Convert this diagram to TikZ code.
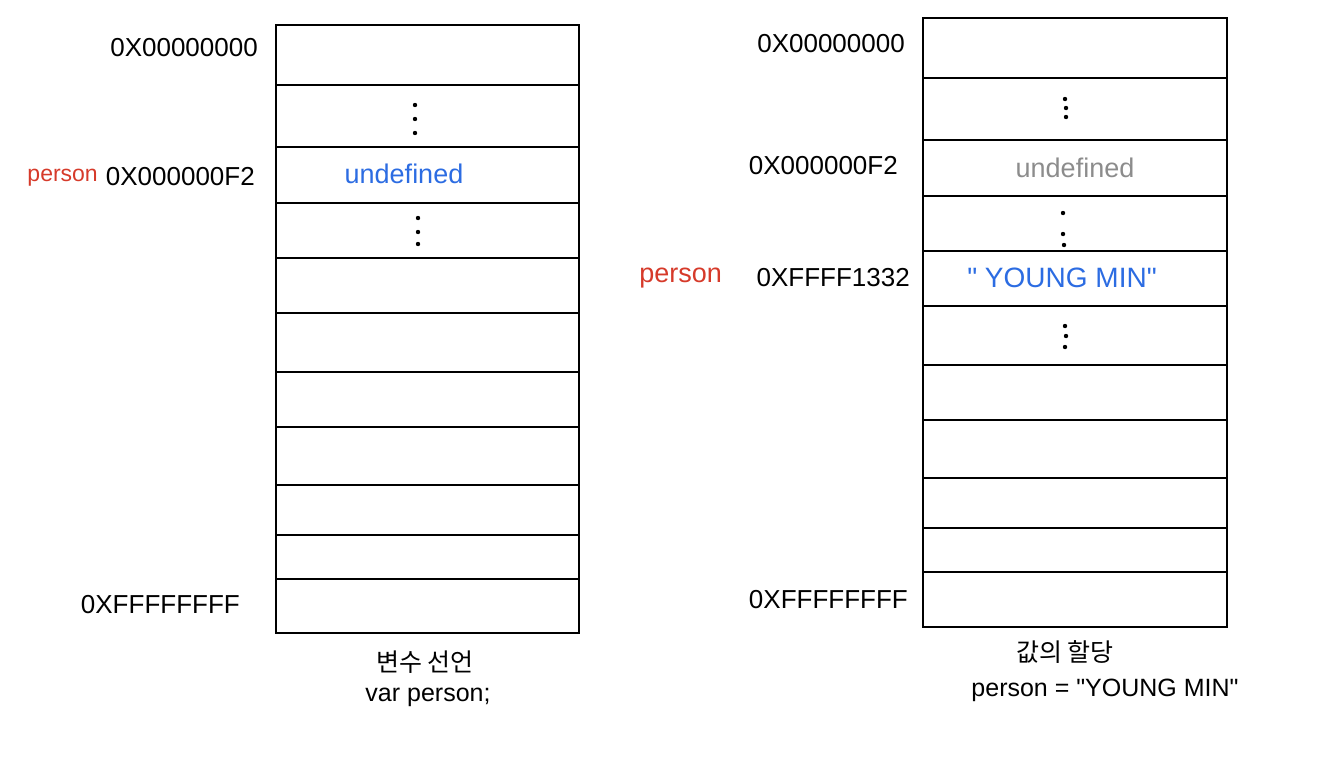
\documentclass[tikz,border=0pt]{standalone}
\usepackage{fontspec}
\setmainfont{Liberation Sans}
\newfontfamily\krfont{Noto Sans CJK KR}
\usepackage{tikz}
\usetikzlibrary{calc}

\definecolor{penblue}{RGB}{44,108,226}
\definecolor{penred}{RGB}{214,58,42}
\definecolor{pengray}{RGB}{140,140,140}

\tikzset{
  cellline/.style={line width=1.6pt},
  addr/.style={anchor=east, inner sep=0pt, font=\fontsize{26}{28}\selectfont},
  varname/.style={anchor=east, inner sep=0pt, text=penred, font=\fontsize{23}{26}\selectfont},
  cellval/.style={inner sep=0pt, font=\fontsize{27}{30}\selectfont},
  caption/.style={inner sep=0pt, font=\fontsize{25}{28}\selectfont}
}

\begin{document}
\begin{tikzpicture}[x=1pt, y=-1pt]
      \useasboundingbox (0, 0) rectangle (1340, 766);
      % left memory: after declaration
      \draw[cellline] (276, 25) rectangle (579, 633);
      \foreach \y in {85, 147, 203, 258, 313, 372, 427, 485, 535, 579}
        \draw[cellline] (276, \y) -- (579, \y);
      \node[addr] (l1) at (258, 48) {0X00000000};
      \node[addr] (l2) at (255, 177) {0X000000F2};
      \node[varname] (lv) at (98, 178) {person};
      \node[addr] (l3) at (240, 605) {0XFFFFFFFF};
      \foreach \x/\y in {415/105, 415/119, 415/133, 418/218, 418/232, 418/244}
        \fill (\x, \y) circle (2.2);
      \node[cellval, text=penblue] (lval) at (404, 174) {undefined};
      \node[caption] (lcap) at (425, 662) {\krfont 변수 선언};
      \node[caption] (lcode) at (428, 697) {var person;};
      % right memory: after assignment
      \draw[cellline] (923, 18) rectangle (1227, 627);
      \foreach \y in {78, 140, 196, 251, 306, 365, 420, 478, 528, 572}
        \draw[cellline] (923, \y) -- (1227, \y);
      \node[addr] (r1) at (905, 44) {0X00000000};
      \node[addr] (r2) at (898, 166) {0X000000F2};
      \node[addr] (r3) at (910, 278) {0XFFFF1332};
      \node[varname, font=\fontsize{27}{30}\selectfont] (rv) at (722, 278) {person};
      \node[addr] (r4) at (908, 600) {0XFFFFFFFF};
      \foreach \x/\y in {1065/99, 1066/108, 1066/117, 1063/213, 1063/234, 1064/245,
                         1065/326, 1066/336, 1065/347}
        \fill (\x, \y) circle (2.2);
      \node[cellval, text=pengray] (rold) at (1075, 168) {undefined};
      \node[cellval, text=penblue, font=\fontsize{28}{30}\selectfont] (rval) at (1062, 278)
        {\textquotedbl\ YOUNG MIN\textquotedbl};
      \node[caption] (rcap) at (1065, 652) {\krfont 값의 할당};
      \node[caption] (rcode) at (1105, 690) {person = \textquotedbl YOUNG MIN\textquotedbl};
    \end{tikzpicture}
\end{document}
